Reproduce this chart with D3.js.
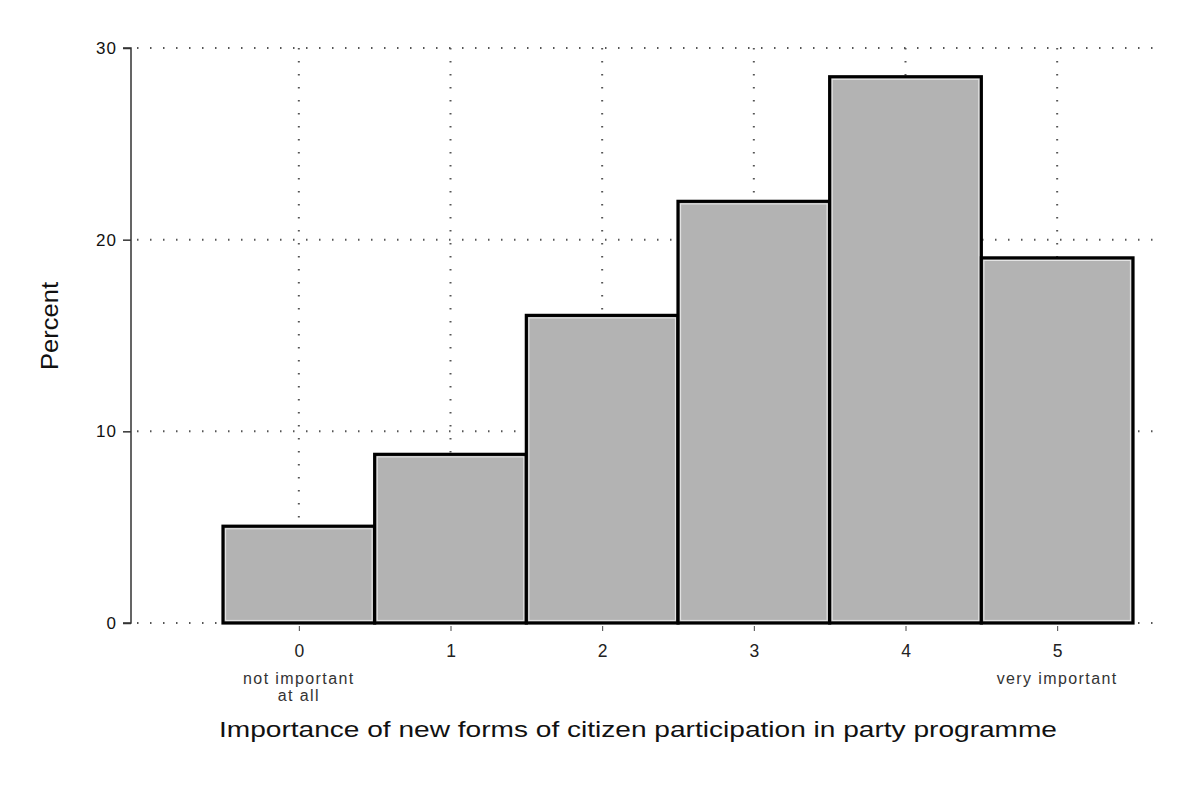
<!DOCTYPE html>
<html><head><meta charset="utf-8">
<script src="https://cdn.jsdelivr.net/npm/d3@7"></script>
<style>body{margin:0;background:#fff}svg{display:block}text{font-family:"Liberation Sans",Arial,sans-serif}</style>
</head><body>
<svg id="c" width="1181" height="787"></svg>
<script>
const categories = [0, 1, 2, 3, 4, 5];
const percents = [5.05, 8.8, 16.05, 22.0, 28.5, 19.05];
const yTicks = [0, 10, 20, 30];
const subLabels = {0: ["not important", "at all"], 5: ["very important"]};
const xTitle = "Importance of new forms of citizen participation in party programme";
const yTitle = "Percent";

const svg = d3.select("#c");
const x = d3.scaleLinear().domain([-0.5, 5.5]).range([223, 1133]);
const y = d3.scaleLinear().domain([0, 30]).range([623, 48]);
const axisX = 131;

// grid dotted lines
const grid = svg.append("g").attr("stroke", "#555").attr("stroke-width", 2)
  .attr("stroke-dasharray", "1.5,11.5").attr("stroke-linecap", "butt");
yTicks.forEach(t => {
  grid.append("line").attr("x1", axisX + 6).attr("x2", 1160).attr("y1", y(t)).attr("y2", y(t));
});
categories.forEach(c => {
  grid.append("line").attr("x1", x(c)).attr("x2", x(c)).attr("y1", y(30)).attr("y2", y(0));
});

// bars
const bars = svg.append("g");
bars.selectAll("rect.bar").data(categories).join("rect").attr("class", "bar")
  .attr("x", d => x(d - 0.5))
  .attr("width", d => x(d + 0.5) - x(d - 0.5))
  .attr("y", (d, i) => y(percents[i]))
  .attr("height", (d, i) => y(0) - y(percents[i]))
  .attr("fill", "#b3b3b3").attr("stroke", "#000").attr("stroke-width", 3.2);
bars.selectAll("rect.inner").data(categories).join("rect").attr("class", "inner")
  .attr("x", d => x(d - 0.5) + 2.6)
  .attr("width", d => x(d + 0.5) - x(d - 0.5) - 5.2)
  .attr("y", (d, i) => y(percents[i]) + 2.6)
  .attr("height", (d, i) => y(0) - y(percents[i]) - 5.2)
  .attr("fill", "none").attr("stroke", "#e6e6e6").attr("stroke-width", 1);

// y axis
const ya = svg.append("g").attr("transform", `translate(${axisX},0)`)
  .call(d3.axisLeft(y).tickValues(yTicks).tickSize(8).tickPadding(6).tickFormat(d3.format("d")));
ya.select(".domain").attr("stroke", "#333").attr("stroke-width", 1.5).attr("d", `M-8,${y(30)}H0V${y(0)}H-8`);
ya.selectAll(".tick line").attr("stroke", "#333").attr("stroke-width", 1.5);
ya.selectAll(".tick text").attr("font-size", 17).attr("letter-spacing", 1).attr("fill", "#111")
  .attr("font-family", "Liberation Sans, Arial, sans-serif");

// x axis
const xa = svg.append("g").attr("transform", `translate(0,${y(0) + 3})`)
  .call(d3.axisBottom(x).tickValues(categories).tickSize(5).tickPadding(14).tickFormat(d3.format("d")));
xa.select(".domain").remove();
xa.selectAll(".tick line").attr("stroke", "#444").attr("stroke-width", 1);
xa.selectAll(".tick text").attr("font-size", 17.5).attr("fill", "#222").attr("font-family", "Liberation Sans, Arial, sans-serif");

// sub labels
Object.entries(subLabels).forEach(([k, lines]) => {
  lines.forEach((s, i) => {
    svg.append("text").attr("x", x(+k)).attr("y", 684 + i * 17).attr("text-anchor", "middle")
      .attr("font-size", 16).attr("fill", "#333").attr("letter-spacing", 1.4).text(s);
  });
});

// titles
svg.append("text").attr("x", 638).attr("y", 737).attr("text-anchor", "middle")
  .attr("font-size", 22).attr("fill", "#111").attr("textLength", 838).attr("lengthAdjust", "spacingAndGlyphs").text(xTitle);
svg.append("text").attr("transform", `translate(58,${326}) rotate(-90)`).attr("text-anchor", "middle")
  .attr("font-size", 23).attr("fill", "#111").attr("textLength", 88).attr("lengthAdjust", "spacingAndGlyphs").text(yTitle);
</script>
</body></html>
